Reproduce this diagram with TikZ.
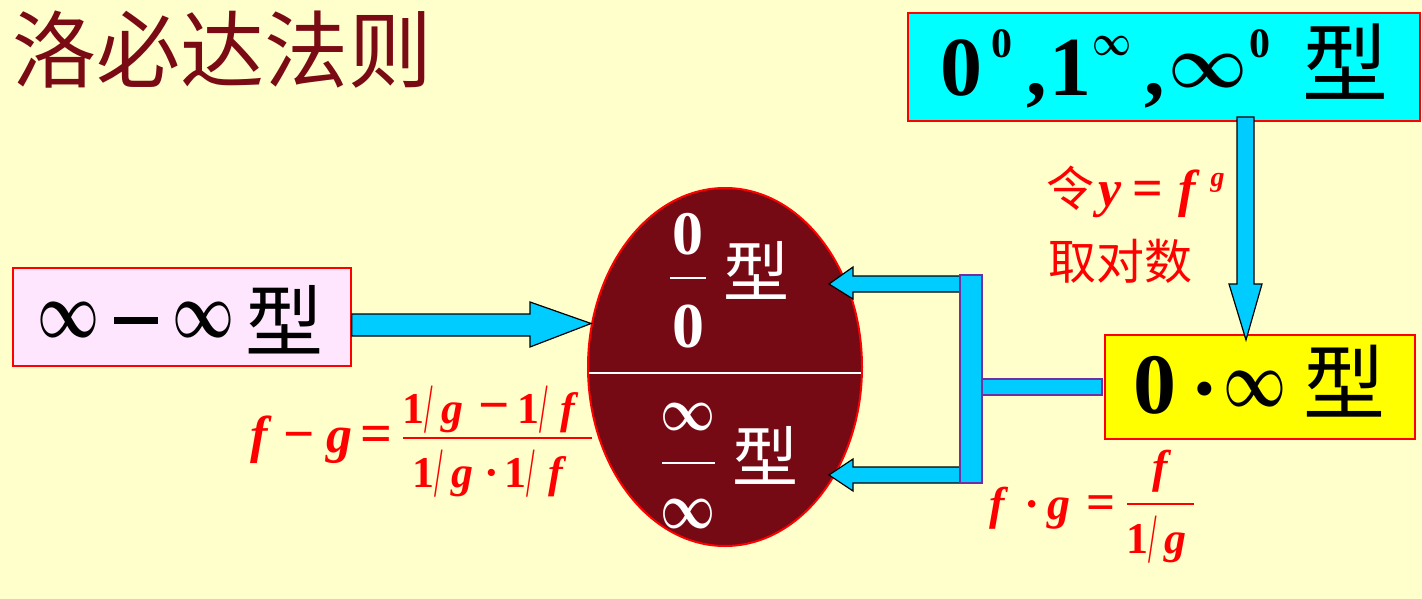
\documentclass[tikz,border=0pt]{standalone}
\usepackage{fontspec}
\setmainfont{Liberation Serif}
\newfontfamily\cjk{Noto Sans CJK SC}
\newfontface\bif{Liberation Serif Bold Italic}
\newfontface\bfs{Liberation Serif Bold}
\newfontface\rms{Liberation Serif}
\usepackage{graphicx}
\usetikzlibrary{shapes.geometric,calc}
\definecolor{bgc}{RGB}{255,255,204}
\definecolor{titlec}{RGB}{122,10,20}
\definecolor{ellc}{RGB}{117,10,21}
\definecolor{arrowc}{RGB}{0,204,255}
\definecolor{cyanc}{RGB}{0,255,255}
\definecolor{yellowc}{RGB}{255,255,0}
\definecolor{pinkc}{RGB}{255,230,255}
\definecolor{purplec}{RGB}{112,48,160}
\definecolor{redc}{RGB}{255,0,0}
\newcommand\fs[1]{\fontsize{#1}{#1}\selectfont}
\newcommand\putat[2]{\makebox[0pt][l]{\hspace*{#1pt}#2}}
\newcommand\infb[2]{\resizebox{#1pt}{#2pt}{\boldmath$\infty$}}
\newcommand\fsl{{\rms\fs{44}\raisebox{-9pt}{\scalebox{0.7}[1.6]{/}}}}
\begin{document}
\begin{tikzpicture}[x=1pt,y=-1pt,
  box/.style={draw=redc, line width=1.5pt, inner sep=0pt},
  txt/.style={anchor=base west, inner sep=0pt},
  blockarrow/.style={fill=arrowc, draw=black, line width=1.2pt, line join=miter},
  bar/.style={fill=arrowc, draw=purplec, line width=1.2pt},
  redtxt/.style={txt, text=redc}]
\fill[bgc] (0,0) rectangle (1422,599);
\useasboundingbox (0,0) rectangle (1422,599);

% title
\node[txt, text=titlec, font=\cjk\fs{84}] (title) at (12,82) {洛必达法则};

% boxes
\node[box, fill=cyanc, minimum width=512pt, minimum height=108pt] (tb) at (1164,67) {};
\node[box, fill=pinkc, minimum width=338pt, minimum height=98pt] (pb) at (182,317) {};
\node[box, fill=yellowc, minimum width=310pt, minimum height=104pt] (yb) at (1260,387) {};
\node[ellipse, draw=redc, line width=2pt, fill=ellc, minimum width=274pt, minimum height=358pt, inner sep=0pt] (el) at (725,367) {};

% top box text
\node[txt] (tbt) at (940,96) {%
  \putat{0}{\bfs\fs{84}0}%
  \putat{51}{\raisebox{38pt}{\bfs\fs{42}0}}%
  \putat{86}{\bfs\fs{82},}%
  \putat{109}{\bfs\fs{84}1}%
  \putat{152}{\raisebox{40pt}{\infb{39}{19}}}%
  \putat{204}{\bfs\fs{82},}%
  \putat{228}{\raisebox{8pt}{\infb{79}{33}}}%
  \putat{309}{\raisebox{38pt}{\bfs\fs{42}0}}%
  \putat{362}{\cjk\fs{86}型}};

% pink box text
\node[txt] (pbt) at (35,350) {%
  \putat{2}{\raisebox{13pt}{\infb{62}{35}}}%
  \putat{78}{\raisebox{26.5pt}{\rule{44pt}{6.5pt}}}%
  \putat{137}{\raisebox{13pt}{\infb{62}{35}}}%
  \putat{210}{\cjk\fs{78}型}};

% yellow box text
\node[txt] (ybt) at (1133,413) {%
  \putat{0}{\bfs\fs{86}0}%
  \putat{57}{\raisebox{-4pt}{\bfs\fs{86}·}}%
  \putat{90}{\raisebox{6pt}{\infb{63}{35}}}%
  \putat{170}{\cjk\fs{82}型}};

% ellipse contents
\draw[white, line width=2pt] (589,373) -- (861,373);
\node[anchor=base, inner sep=0pt, text=white, font=\bfs\fs{62}] (n0) at (688,254) {0};
\node[anchor=base, inner sep=0pt, text=white, font=\bfs\fs{64}] (d0) at (688,347) {0};
\draw[white, line width=1.2pt] (670,278) -- (706,278);
\node[anchor=center, inner sep=0pt, text=white, font=\cjk\fs{66}] (x1) at (756,270) {型};
\node[anchor=center, inner sep=0pt, text=white] (ni) at (688,417) {\infb{55}{27}};
\node[anchor=center, inner sep=0pt, text=white] (di) at (688,514) {\infb{55}{29}};
\draw[white, line width=1.2pt] (662,463) -- (715,463);
\node[anchor=center, inner sep=0pt, text=white, font=\cjk\fs{66}] (x2) at (765,455) {型};

% arrows
\draw[blockarrow] (pb.east |- 0,314) -- (530,314) -- (530,302) -- (el.162) -- (530,347) -- (530,336) -- (pb.east |- 0,336) -- cycle;
\draw[blockarrow] (960,276) -- (853,276) -- (853,267) -- (829,284) -- (853,299) -- (853,292) -- (960,292) -- cycle;
\draw[blockarrow] (960,467) -- (853,467) -- (853,459) -- (829,475) -- (853,491) -- (853,483) -- (960,483) -- cycle;
\draw[bar] (960,275) rectangle (982,483);
\draw[bar] (982,379) rectangle (1102,395);
\draw[blockarrow] (1237,117) -- (1254,117) -- (1254,284) -- (1262,284) -- (1246,340) -- (1229,284) -- (1237,284) -- cycle;

% red labels
\node[redtxt] (lt) at (1046,206) {%
  \putat{0}{\cjk\fs{48}令}%
  \putat{52}{\bif\fs{52}y}%
  \putat{86}{\bfs\fs{54}=}%
  \putat{132}{\bif\fs{52}f}%
  \putat{164}{\raisebox{20pt}{\bif\fs{28}g}}};
\node[redtxt, font=\cjk\fs{48}] (qd) at (1048,279) {取对数};

% left formula
\node[redtxt] (lf) at (240,452) {%
  \putat{10}{\bif\fs{52}f}%
  \putat{43}{\bfs\fs{55}−}%
  \putat{86}{\bif\fs{52}g}%
  \putat{120}{\bfs\fs{56}=}};
\node[redtxt] (lnum) at (400,423) {%
  \putat{2}{\bfs\fs{44}1}%
  \putat{24}{\fsl}%
  \putat{41}{\bif\fs{44}g}%
  \putat{78}{\bfs\fs{55}−}%
  \putat{117}{\bfs\fs{44}1}%
  \putat{139}{\fsl}%
  \putat{160}{\bif\fs{44}f}};
\node[redtxt] (lden) at (400,487) {%
  \putat{12}{\bfs\fs{44}1}%
  \putat{34}{\fsl}%
  \putat{51}{\bif\fs{44}g}%
  \putat{84}{\bfs\fs{44}·}%
  \putat{104}{\bfs\fs{44}1}%
  \putat{126}{\fsl}%
  \putat{148}{\bif\fs{44}f}};
\draw[redc, line width=1.5pt] (403,438) -- (592,438);

% bottom-right formula
\node[redtxt] (rf) at (980,519) {%
  \putat{9}{\bif\fs{46}f}%
  \putat{44}{\bfs\fs{46}·}%
  \putat{67}{\bif\fs{46}g}%
  \putat{106}{\bfs\fs{51}=}};
\node[anchor=base, inner sep=0pt, text=redc, font=\bif\fs{46}] (rnum) at (1160,482) {f};
\node[redtxt] (rden) at (1122,553) {%
  \putat{4}{\bfs\fs{44}1}%
  \putat{26}{\fsl}%
  \putat{42}{\bif\fs{44}g}};
\draw[redc, line width=1.5pt] (1127,504) -- (1194,504);
\end{tikzpicture}
\end{document}
